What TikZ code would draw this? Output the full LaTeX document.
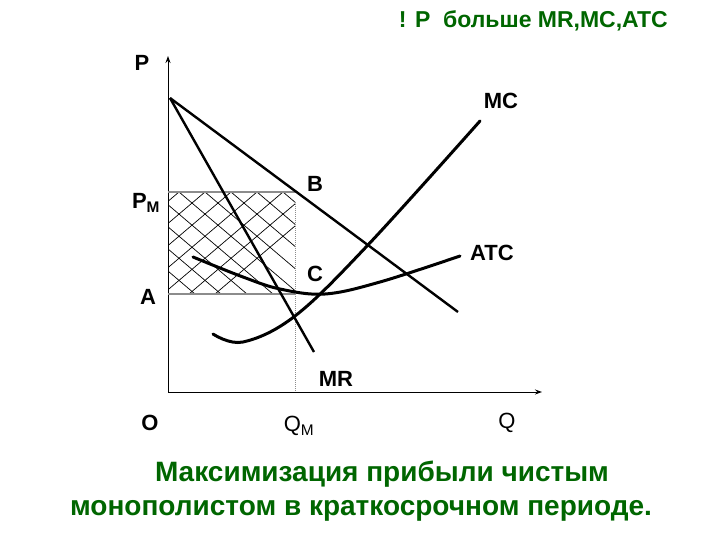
\documentclass[tikz,border=0pt]{standalone}
\usepackage{fontspec}
\setmainfont{Liberation Sans}
\usetikzlibrary{arrows.meta,positioning,calc}
\definecolor{mpGreen}{HTML}{006600}
\definecolor{mpGray}{HTML}{8C8C8C}
\tikzset{
  axis/.style={line width=1pt, -{Stealth[length=7pt,width=5pt]}},
  dem/.style={line width=2.4pt},
  crv/.style={line width=3pt, line cap=round},
  hatch/.style={line width=0.7pt},
  edge/.style={draw=mpGray, line width=1.4pt},
  lbl/.style={font=\fontsize{22}{26}\selectfont\bfseries, inner sep=0pt},
  qlbl/.style={font=\fontsize{22}{26}\selectfont, inner sep=0pt},
  ttl/.style={font=\fontsize{28}{33}\selectfont\bfseries, text=mpGreen, inner sep=0pt},
}
\begin{document}
\begin{tikzpicture}[x=1pt, y=-1pt]
  \useasboundingbox (0,0) rectangle (720,540);
  % axes
  \coordinate (O) at (168,392);
  \coordinate (yTop) at (168,56);
  \coordinate (xEnd) at (542,392);
  \draw[axis] (O) -- (yTop);
  \draw[axis] (O) -- (xEnd);
  % profit area
  \coordinate (pmL) at (168,192);
  \coordinate (B) at (297,192);
  \coordinate (aL) at (168,294);
  \coordinate (aR) at (295,294);
  \coordinate (qmTop) at (295,202);
  \coordinate (qm) at (295,392);
  \begin{scope}
    \clip (pmL) rectangle (aR);
    \foreach \k in {-6,...,6} {
      \draw[hatch] (179+26*\k,192) -- ++(200,170);
      \draw[hatch] (179+26*\k,192) -- ++(-200,170);
    }
  \end{scope}
  \draw[edge] (pmL) -- (B);
  \draw[edge] (aL) -- (aR);
  \draw[draw=mpGray, line width=1pt, densely dotted] (qmTop) -- (qm);
  % demand and MR
  \coordinate (top) at (170,98);
  \coordinate (dEnd) at (458,312);
  \coordinate (mrEnd) at (314,352);
  \draw[dem] (top) -- (dEnd);
  \draw[dem] (top) -- (mrEnd);
  % cost curves
  \draw[crv] plot[smooth, tension=0.6] coordinates {(213,334) (243,342) (295,316) (367,246) (480,121)};
  \draw[crv] plot[smooth, tension=0.6] coordinates {(193,257) (243,277) (280,289) (325,294) (380,282) (460,256)};
  % labels
  \node[lbl] (lP) at (142,63) {P};
  \node[lbl] (lPM) at (146,203) {P\textsubscript{M}};
  \node[lbl] (lA) at (148,297) {A};
  \node[lbl] (lO) at (150,423) {O};
  \node[qlbl] (lQM) at (299,426) {Q\textsubscript{M}};
  \node[qlbl] (lQ) at (507,423) {Q};
  \node[lbl] (lB) at (315,184) {B};
  \node[lbl] (lC) at (315,274) {C};
  \node[lbl] (lMR) at (336,379) {MR};
  \node[lbl] (lMC) at (501,101) {MC};
  \node[lbl] (lATC) at (492,253) {ATC};
  % titles
  \node[ttl, font=\fontsize{23}{27}\selectfont\bfseries, anchor=east] (head) at (668,21) {! P\ \ больше MR,MC,ATC};
  \node[ttl] (cap1) at (382,474) {Максимизация прибыли чистым};
  \node[ttl] (cap2) at (361,511) {монополистом в краткосрочном периоде.};
\end{tikzpicture}
\end{document}
